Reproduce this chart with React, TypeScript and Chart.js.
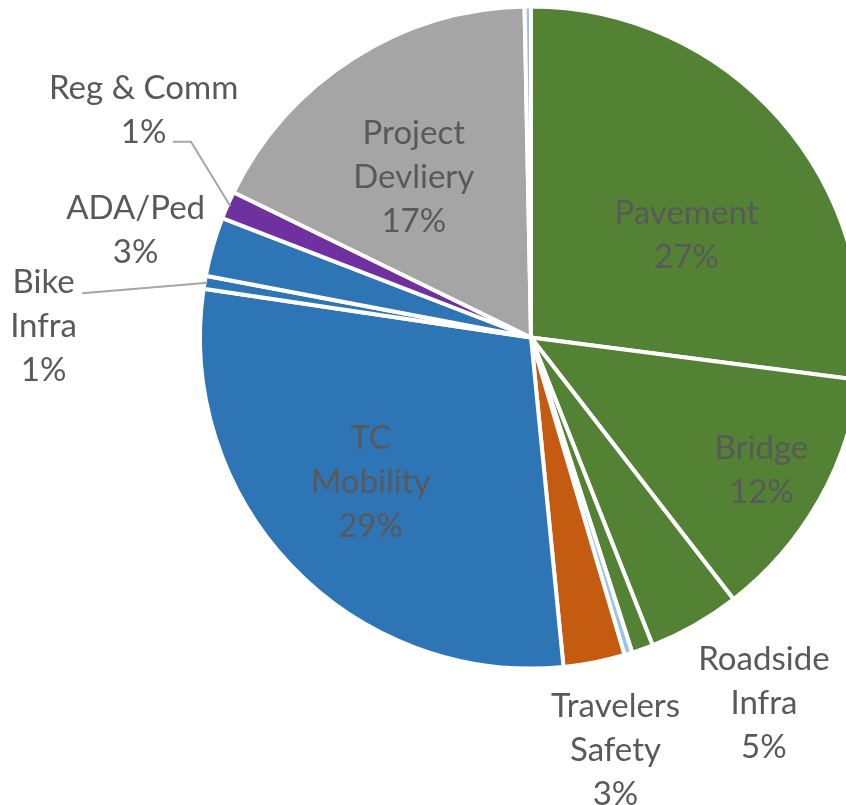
import React, { useEffect, useRef } from "react";
import { Chart, registerables } from "chart.js";

Chart.register(...registerables);

// ---- data (clockwise from 12 o'clock) ----
const categories = [
  "Pavement",
  "Bridge",
  "Roadside Infra",
  "Other Asset",
  "Other Safety",
  "Travelers Safety",
  "TC Mobility",
  "Bike Infra",
  "ADA/Ped",
  "Reg & Comm",
  "Project Devliery",
  "Other",
];
const shares = [27.03, 12.46, 4.49, 1.04, 0.39, 2.99, 28.9, 0.63, 2.89, 1.35, 17.45, 0.31];
const percentLabels = ["27%", "12%", "5%", "", "", "3%", "29%", "1%", "3%", "1%", "17%", ""];
const sliceColors = [
  "#548235",
  "#548235",
  "#548235",
  "#548235",
  "#9DC3E6",
  "#C55A11",
  "#2E75B6",
  "#2E75B6",
  "#2E75B6",
  "#7030A0",
  "#A5A5A5",
  "#9DC3E6",
];
// labels whose name stays on one line
const singleLineNames = ["Pavement", "Bridge", "ADA/Ped", "Reg & Comm"];

// ---- label layout (offsets from the pie centre, at reference radius) ----
const REF_R = 329;
const labelOffsets: ([number, number] | null)[] = [
  [154.5, -102],
  [229, 132],
  [231.5, 364],
  null,
  null,
  [84, 410.5],
  [-159.5, 143.5],
  [-484.5, -11.5],
  [-393, -106],
  [-385, -226],
  [-116.5, -159],
  null,
];
// leader line start points (offsets), line ends on slice edge
const leaderStarts: ([number, number][] | null)[] = [
  null, null, null, null, null, null, null,
  [[-446, -44]],
  null,
  [[-356, -194.5], [-338, -194.5]],
  null, null,
];

const LINE_H = 44;
const FONT = "33px Lato, 'Open Sans', sans-serif";
const TEXT_COLOR = "#595959";

const labelPlugin = {
  id: "sliceLabels",
  afterDatasetsDraw(chart: any) {
    const meta = chart.getDatasetMeta(0);
    const ctx = chart.ctx as CanvasRenderingContext2D;
    ctx.save();
    meta.data.forEach((arc: any, i: number) => {
      const off = labelOffsets[i];
      if (!off || !percentLabels[i]) return;
      const { x, y, outerRadius, startAngle, endAngle } = arc.getProps(
        ["x", "y", "outerRadius", "startAngle", "endAngle"],
        true
      );
      const s = outerRadius / REF_R;
      const starts = leaderStarts[i];
      if (starts) {
        const mid = (startAngle + endAngle) / 2;
        const ex = x + Math.cos(mid) * (outerRadius - 3);
        const ey = y + Math.sin(mid) * (outerRadius - 3);
        ctx.strokeStyle = "#A6A6A6";
        ctx.lineWidth = 2;
        ctx.beginPath();
        starts.forEach((p, k) => {
          const px = x + p[0] * s;
          const py = y + p[1] * s;
          if (k === 0) ctx.moveTo(px, py);
          else ctx.lineTo(px, py);
        });
        ctx.lineTo(ex, ey);
        ctx.stroke();
      }
      const name = categories[i];
      const lines = singleLineNames.includes(name) ? [name] : name.split(" ");
      lines.push(percentLabels[i]);
      const cx = x + off[0] * s;
      const cy = y + off[1] * s;
      ctx.font = FONT;
      ctx.fillStyle = TEXT_COLOR;
      ctx.textAlign = "center";
      ctx.textBaseline = "middle";
      const top = cy - ((lines.length - 1) * LINE_H) / 2;
      lines.forEach((t, k) => ctx.fillText(t, cx, top + k * LINE_H));
    });
    ctx.restore();
  },
};

export default function App() {
  const ref = useRef<HTMLCanvasElement | null>(null);
  useEffect(() => {
    if (!ref.current) return;
    const chart = new Chart(ref.current, {
      type: "pie",
      data: {
        labels: categories,
        datasets: [
          {
            data: shares,
            backgroundColor: sliceColors,
            borderColor: "#ffffff",
            borderWidth: 4,
            clip: false,
          } as any,
        ],
      },
      options: {
        animation: false,
        responsive: false,
        radius: 331,
        layout: { padding: { left: 216, right: 0, top: 0, bottom: 130 } },
        plugins: {
          legend: { display: false },
          tooltip: { enabled: false },
        },
      } as any,
      plugins: [labelPlugin],
    });
    return () => chart.destroy();
  }, []);
  return (
    <div style={{ position: "fixed", left: 0, top: 0, width: 846, height: 805, background: "#fff", overflow: "hidden" }}>
      <canvas ref={ref} width={846} height={805} style={{ width: 846, height: 805 }} />
    </div>
  );
}
